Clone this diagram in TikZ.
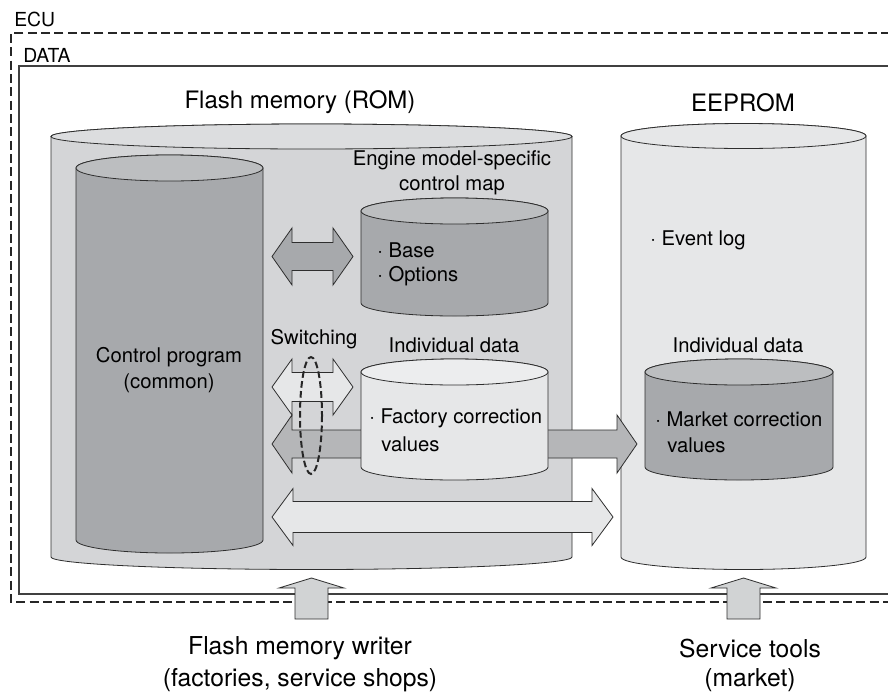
\documentclass[tikz,border=0pt]{standalone}
\usepackage{fontspec}
\setmainfont{TeX Gyre Heros}
\definecolor{flashfill}{HTML}{D4D5D7}
\definecolor{flashtop}{HTML}{DCDDDF}
\definecolor{lightfill}{HTML}{E6E7E8}
\definecolor{lighttop}{HTML}{ECEDEE}
\definecolor{darkfill}{HTML}{A7A9AC}
\definecolor{darktop}{HTML}{BCBEC0}
\definecolor{midfill}{HTML}{B5B6B8}
\definecolor{upfill}{HTML}{D1D3D4}
\definecolor{linecol}{HTML}{2E2E2E}
\newcommand\drum[7]{%
  \pgfmathsetmacro\drumcx{(#1+#2)/2}%
  \pgfmathsetmacro\drumrx{(#2-#1)/2}%
  \filldraw[cylline, fill=#6] (#1,#3) -- (#1,#4) arc[start angle=180, end angle=0, x radius=\drumrx, y radius=#5] -- (#2,#3) arc[start angle=0, end angle=-180, x radius=\drumrx, y radius=#5] -- cycle;
  \filldraw[cylline, fill=#7] (\drumcx,#3) ellipse[x radius=\drumrx, y radius=#5];
}
\newcommand\harrow[7]{%
  \filldraw[cylline, fill=#7] (#1,#3) -- ({#1+#6},{#3-#5}) -- ({#1+#6},{#3-#4}) -- ({#2-#6},{#3-#4}) -- ({#2-#6},{#3-#5}) -- (#2,#3) -- ({#2-#6},{#3+#5}) -- ({#2-#6},{#3+#4}) -- ({#1+#6},{#3+#4}) -- ({#1+#6},{#3+#5}) -- cycle;
}
\newcommand\uparrowshape[1]{%
  \filldraw[cylline, fill=upfill] (#1,578) -- ({#1+32.5},588) -- ({#1+16.5},588) -- ({#1+16.5},619) -- ({#1-16.5},619) -- ({#1-16.5},588) -- ({#1-32.5},588) -- cycle;
}
\tikzset{
  cylline/.style={draw=linecol, line width=0.6pt, line join=miter},
  eculine/.style={draw=black!85, line width=1.5pt, dash pattern=on 6.75pt off 3.25pt},
  databox/.style={draw=black!75, line width=0.8pt},
  lbl/.style={inner sep=0pt, font=\fontsize{15.2}{18.5}\selectfont, text=black},
  small/.style={inner sep=0pt, font=\fontsize{14.5}{17}\selectfont, text=black},
  title/.style={inner sep=0pt, font=\fontsize{18}{22}\selectfont, text=black},
  bottomtxt/.style={inner sep=0pt, font=\fontsize{18.5}{24}\selectfont, text=black, align=center},
}
\begin{document}
\begin{tikzpicture}[x=0.75pt, y=-0.75pt]
\useasboundingbox (0,0) rectangle (888,693);
\fill[white] (0,0) rectangle (888,693);
% DATA box and ECU dashed frame
\draw[databox] (890,66) -- (19,66) -- (19,594) -- (890,594);
\draw[eculine] (890,33) -- (11,33) -- (11,602) -- (890,602);
\node[small, anchor=west] (ecu) at (14,19.5) {ECU};
\node[small, anchor=west] (data) at (23,55) {DATA};
% main cylinders
\drum{51}{572}{136.5}{557}{12.5}{flashfill}{flashtop}
\drum{621}{866}{136}{557}{12.5}{lightfill}{lightfill}
\drum{76}{263}{168}{540}{13}{darkfill}{darktop}
\drum{361}{548}{211}{303}{13}{darkfill}{darktop}
% arrows inside flash
\harrow{272}{353}{256.5}{14}{28.5}{20}{darkfill}
\harrow{272}{353}{387}{14.5}{28}{20}{lightfill}
\harrow{272}{637}{444}{14}{29}{20}{midfill}
\drum{361}{548}{372}{467}{13}{lightfill}{lighttop}
\drum{645}{833}{372}{467}{13}{darkfill}{darktop}
\harrow{272}{613}{517}{15.5}{28.5}{21}{lightfill}
% switching ellipse
\draw[black!85, line width=1.5pt, dash pattern=on 5pt off 2.5pt] (311,415.5) ellipse[x radius=11, y radius=58.5];
% up arrows
\uparrowshape{311.5}
\uparrowshape{743.5}
% titles
\node[title] (flashtitle) at (300,102) {Flash memory (ROM)};
\node[title] (eepromtitle) at (743,103) {EEPROM};
% labels
\node[lbl] (eng1) at (452,160) {Engine model-specific};
\node[lbl] (eng2) at (452,185) {control map};
\node[lbl, anchor=west] (base) at (377,250) {· Base};
\node[lbl, anchor=west] (options) at (377,276) {· Options};
\node[lbl] (ctrl1) at (169,357) {Control program};
\node[lbl] (ctrl2) at (169,383) {(common)};
\node[lbl] (switching) at (314,339) {Switching};
\node[lbl] (ind1) at (454,345) {Individual data};
\node[lbl, anchor=west] (fac1) at (369,418) {· Factory correction};
\node[lbl, anchor=west] (fac2) at (381,444) {values};
\node[lbl, anchor=west] (event) at (650,240) {· Event log};
\node[lbl] (ind2) at (738,345) {Individual data};
\node[lbl, anchor=west] (mkt1) at (655,419) {· Market correction};
\node[lbl, anchor=west] (mkt2) at (667,445) {values};
% bottom texts
\node[bottomtxt] (writer1) at (300,648) {Flash memory writer};
\node[bottomtxt] (writer2) at (300,680) {(factories, service shops)};
\node[bottomtxt] (tools1) at (750,648) {Service tools};
\node[bottomtxt] (tools2) at (750,680) {(market)};
\end{tikzpicture}
\end{document}
